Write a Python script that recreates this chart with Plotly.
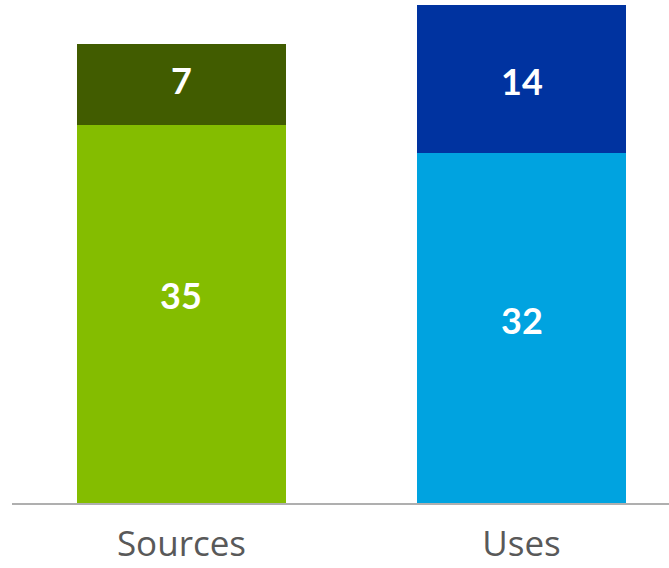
import plotly.graph_objects as go

categories = ["Sources", "Uses"]
base_values = [35.0, 32.4]
top_values = [7.5, 13.7]
base_labels = ["35", "32"]
top_labels = ["7", "14"]
base_colors = ["#84BD00", "#00A3E0"]
top_colors = ["#415C00", "#0033A0"]

# small pixel nudges for where the reference places its value labels
base_label_shift = [19, 8]
top_label_shift = [4, -2]

label_font = dict(family="Lato", size=36, color="white", weight="bold")

fig = go.Figure()
fig.add_trace(go.Bar(
    x=categories, y=base_values,
    marker=dict(color=base_colors, line=dict(width=0)),
    width=0.615, hoverinfo="skip",
))
fig.add_trace(go.Bar(
    x=categories, y=top_values,
    marker=dict(color=top_colors, line=dict(width=0)),
    width=0.615, hoverinfo="skip",
))

for i, cat in enumerate(categories):
    fig.add_annotation(
        x=cat, y=base_values[i] / 2, text=base_labels[i], showarrow=False,
        xanchor="center", yanchor="middle", yshift=base_label_shift[i],
        font=label_font,
    )
    fig.add_annotation(
        x=cat, y=base_values[i] + top_values[i] / 2, text=top_labels[i],
        showarrow=False, xanchor="center", yanchor="middle",
        yshift=top_label_shift[i], font=label_font,
    )

fig.update_layout(
    barmode="stack",
    width=669, height=568,
    margin=dict(l=12, r=0, t=0, b=65),
    paper_bgcolor="white", plot_bgcolor="white",
    showlegend=False,
    xaxis=dict(
        range=[-0.4985, 1.4338], showgrid=False, zeroline=False,
        showline=True, linecolor="#AFAFAF", linewidth=2,
        ticks="", ticklabelstandoff=9, automargin=False,
        tickfont=dict(family="Open Sans", size=35, color="#595959"),
    ),
    yaxis=dict(range=[0, 46.57], visible=False, showgrid=False,
               zeroline=False, automargin=False),
)

fig.write_html(
    "out.html",
    config={"displayModeBar": False},
    post_script="document.body.style.margin='0';document.body.style.overflow='hidden';",
)
